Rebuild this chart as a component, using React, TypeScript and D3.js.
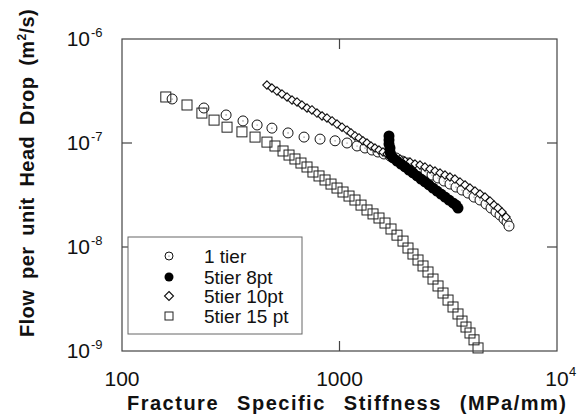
import React from "react";
import * as d3 from "d3";

// ---- data ----
const tier1X = [170, 238, 301, 360, 418, 489, 580, 687, 814, 954, 1083, 1204, 1310, 1411, 1503, 1602, 1707, 1819, 1939, 2065, 2201, 2345, 2499, 2663, 2838, 3024, 3221, 3433, 3658, 3898, 4154, 4426, 4717, 4973, 5243, 5470, 5707, 5891, 6017];
const tier1Y = [2.65e-7, 2.17e-7, 1.86e-7, 1.63e-7, 1.49e-7, 1.39e-7, 1.25e-7, 1.14e-7, 1.09e-7, 1.05e-7, 1.0e-7, 9.36e-8, 8.95e-8, 8.56e-8, 8.19e-8, 7.84e-8, 7.5e-8, 7.18e-8, 6.71e-8, 6.42e-8, 6.01e-8, 5.62e-8, 5.26e-8, 4.92e-8, 4.61e-8, 4.31e-8, 4.03e-8, 3.77e-8, 3.53e-8, 3.3e-8, 3.02e-8, 2.83e-8, 2.59e-8, 2.37e-8, 2.17e-8, 2.03e-8, 1.86e-8, 1.74e-8, 1.59e-8];

const t8X = [1689, 1689, 1689, 1707, 1707, 1725, 1762, 1838, 1918, 2000, 2087, 2177, 2272, 2370, 2472, 2579, 2691, 2807, 2929, 3056, 3188, 3326, 3433, 3506];
const t8Y = [1.17e-7, 1.07e-7, 9.78e-8, 8.95e-8, 8.19e-8, 7.66e-8, 7.18e-8, 6.71e-8, 6.28e-8, 5.88e-8, 5.5e-8, 5.15e-8, 4.82e-8, 4.5e-8, 4.22e-8, 3.95e-8, 3.69e-8, 3.45e-8, 3.23e-8, 3.02e-8, 2.83e-8, 2.65e-8, 2.53e-8, 2.37e-8];

const t10X = [464, 489, 516, 544, 574, 605, 638, 672, 709, 747, 788, 831, 876, 924, 974, 1027, 1083, 1129, 1178, 1229, 1282, 1338, 1396, 1456, 1519, 1585, 1654, 1725, 1800, 1898, 2000, 2110, 2224, 2345, 2472, 2607, 2749, 2899, 3056, 3221, 3396, 3581, 3776, 3981, 4198, 4426, 4667, 4920, 5133, 5355, 5586, 5829];
const t10Y = [3.61e-7, 3.38e-7, 3.16e-7, 2.96e-7, 2.77e-7, 2.59e-7, 2.48e-7, 2.32e-7, 2.17e-7, 2.08e-7, 1.94e-7, 1.82e-7, 1.74e-7, 1.63e-7, 1.52e-7, 1.42e-7, 1.33e-7, 1.25e-7, 1.17e-7, 1.12e-7, 1.05e-7, 1.0e-7, 9.36e-8, 8.95e-8, 8.56e-8, 8.19e-8, 7.84e-8, 7.5e-8, 7.18e-8, 7.02e-8, 6.71e-8, 6.56e-8, 6.28e-8, 6.14e-8, 5.88e-8, 5.62e-8, 5.38e-8, 5.15e-8, 4.92e-8, 4.71e-8, 4.5e-8, 4.22e-8, 3.95e-8, 3.69e-8, 3.45e-8, 3.23e-8, 3.02e-8, 2.77e-8, 2.53e-8, 2.37e-8, 2.17e-8, 1.94e-8];

const t15X = [159, 199, 233, 265, 304, 356, 409, 464, 505, 550, 586, 624, 665, 709, 755, 805, 858, 914, 974, 1038, 1106, 1178, 1256, 1338, 1426, 1519, 1619, 1725, 1838, 1959, 2065, 2177, 2296, 2421, 2552, 2691, 2838, 2992, 3155, 3326, 3506, 3658, 3816, 3981, 4154, 4334];
const t15Y = [2.77e-7, 2.32e-7, 1.94e-7, 1.66e-7, 1.42e-7, 1.28e-7, 1.14e-7, 1.02e-7, 9.36e-8, 8.38e-8, 7.66e-8, 7.02e-8, 6.42e-8, 5.88e-8, 5.26e-8, 4.82e-8, 4.41e-8, 4.03e-8, 3.69e-8, 3.38e-8, 3.09e-8, 2.83e-8, 2.53e-8, 2.27e-8, 2.08e-8, 1.9e-8, 1.7e-8, 1.49e-8, 1.3e-8, 1.14e-8, 9.78e-9, 8.56e-9, 7.5e-9, 6.57e-9, 5.75e-9, 4.92e-9, 4.22e-9, 3.61e-9, 3.09e-9, 2.65e-9, 2.27e-9, 1.94e-9, 1.7e-9, 1.49e-9, 1.28e-9, 1.07e-9];

const xTicks = [100, 1000, 10000];
const xTickBase = ["100", "1000", "10"];
const xTickExp = ["", "", "4"];
const yTicks = [1e-6, 1e-7, 1e-8, 1e-9];
const yTickExp = ["-6", "-7", "-8", "-9"];
const legendLabels = ["1 tier", "5tier 8pt", "5tier 10pt", "5tier 15 pt"];
const xTitle = "Fracture Specific Stiffness (MPa/mm)";
const yTitle = "Flow per unit Head Drop (m";
const yTitleTail = "/s)";

const FONT = "'Liberation Sans', Arial, Helvetica, sans-serif";

export default function App() {
  const W = 583, H = 415;
  const left = 122, right = 557, top = 39, bottom = 351;
  const x = d3.scaleLog().domain([100, 10000]).range([left, right]);
  const y = d3.scaleLog().domain([1e-9, 1e-6]).range([bottom, top]);
  const tickLen = 10;
  const frame = "#444";

  const circle = (cx: number, cy: number, r: number, key: any) => (
    <g key={key}>
      <circle cx={cx} cy={cy} r={r} fill="#fff" stroke="#111" strokeWidth={1} />
      <circle cx={cx} cy={cy} r={0.6} fill="#555" />
    </g>
  );
  const diamond = (cx: number, cy: number, s: number, key: any) => (
    <path key={key} d={`M${cx},${cy - s}L${cx + s},${cy}L${cx},${cy + s}L${cx - s},${cy}Z`} fill="#fff" stroke="#111" strokeWidth={1.1} />
  );
  const square = (cx: number, cy: number, s: number, key: any) => (
    <rect key={key} x={cx - s / 2} y={cy - s / 2} width={s} height={s} fill="none" stroke="#222" strokeWidth={1} />
  );

  const legX = 169, legTextX = 204;
  const legRows = [256, 277, 296, 316];

  return (
    <div style={{ position: "fixed", left: 0, top: 0, width: W, height: H, background: "#fff" }}>
      <svg width={W} height={H} style={{ display: "block" }} fontFamily={FONT}>
        <rect x={0} y={0} width={W} height={H} fill="#fff" />
        {/* data */}
        <g>{tier1X.map((v, i) => circle(x(v), y(tier1Y[i]), 5, "c" + i))}</g>
        <g>{t10X.map((v, i) => diamond(x(v), y(t10Y[i]), 4.2, "d" + i))}</g>
        <g>{t15X.map((v, i) => square(x(v), y(t15Y[i]), 10, "s" + i))}</g>
        <g>{t8X.map((v, i) => <circle key={"b" + i} cx={x(v)} cy={y(t8Y[i])} r={5.5} fill="#000" />)}</g>

        {/* frame */}
        <rect x={left} y={top} width={right - left} height={bottom - top} fill="none" stroke={frame} strokeWidth={1.2} />
        {yTicks.slice(1, 3).map((t, i) => (
          <g key={"yt" + i}>
            <line x1={left} x2={left + tickLen} y1={y(t)} y2={y(t)} stroke={frame} strokeWidth={1.2} />
            <line x1={right} x2={right - tickLen} y1={y(t)} y2={y(t)} stroke={frame} strokeWidth={1.2} />
          </g>
        ))}
        {xTicks.slice(1, 2).map((t, i) => (
          <g key={"xt" + i}>
            <line x1={x(t)} x2={x(t)} y1={bottom} y2={bottom - tickLen} stroke={frame} strokeWidth={1.2} />
            <line x1={x(t)} x2={x(t)} y1={top} y2={top + tickLen} stroke={frame} strokeWidth={1.2} />
          </g>
        ))}

        {/* y tick labels */}
        {yTicks.map((t, i) => (
          <g key={"yl" + i}>
            <text x={90} y={y(t) + 7} fontSize={21} textAnchor="end" fill="#111">10</text>
            <text x={91} y={y(t) - 2} fontSize={13} textAnchor="start" fill="#111">{yTickExp[i]}</text>
          </g>
        ))}
        {/* x tick labels */}
        {xTicks.map((t, i) => (
          <g key={"xl" + i}>
            <text x={x(t)} y={386} fontSize={21} textAnchor="middle" fill="#111">{xTickBase[i]}</text>
            {xTickExp[i] && (
              <text x={x(t) + 12} y={376} fontSize={13} textAnchor="start" fill="#111">{xTickExp[i]}</text>
            )}
          </g>
        ))}

        {/* axis titles */}
        <text x={127} y={410} fontSize={20} fontWeight="bold" letterSpacing={1.5} wordSpacing={11} fill="#111">{xTitle}</text>
        <text transform={`translate(34,173) rotate(-90)`} fontSize={20} fontWeight="bold" letterSpacing={0.4} wordSpacing={5} textAnchor="middle" fill="#111">
          {yTitle}
          <tspan fontSize={12} dy={-8}>2</tspan>
          <tspan dy={8}>{yTitleTail}</tspan>
        </text>

        {/* legend */}
        <rect x={128} y={237} width={174} height={97} fill="#fff" stroke="#666" strokeWidth={1} />
        {circle(legX, legRows[0], 4, "lc")}
        <circle cx={legX} cy={legRows[1]} r={4.5} fill="#000" />
        {diamond(legX, legRows[2], 4.5, "ld")}
        {square(legX, legRows[3], 8, "ls")}
        {legendLabels.map((l, i) => (
          <text key={"lt" + i} x={legTextX} y={legRows[i] + 7} fontSize={19} fill="#111">{l}</text>
        ))}
      </svg>
    </div>
  );
}
